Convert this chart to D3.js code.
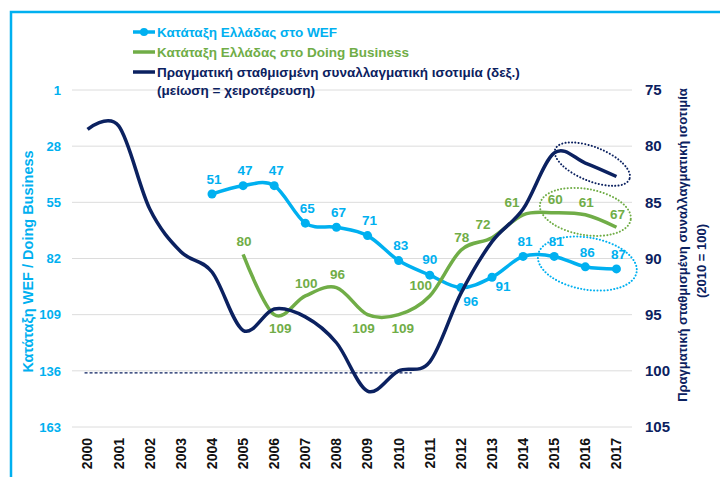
<!DOCTYPE html>
<html>
<head>
<meta charset="utf-8">
<script src="https://cdn.jsdelivr.net/npm/d3@7/dist/d3.min.js"></script>
<style>
  body { margin: 0; background: #fff; }
  svg { font-family: "Liberation Sans", Arial, sans-serif; display: block; }
</style>
</head>
<body>
<svg id="chart"></svg>
<script>
// categories
const years = [2000, 2001, 2002, 2003, 2004, 2005, 2006, 2007, 2008, 2009,
               2010, 2011, 2012, 2013, 2014, 2015, 2016, 2017];

// WEF ranking (left axis)
const wefYears = [2004, 2005, 2006, 2007, 2008, 2009, 2010, 2011, 2012, 2013, 2014, 2015, 2016, 2017];
const wefRank = [51, 47, 47, 65, 67, 71, 83, 90, 96, 91, 81, 81, 86, 87];

// Doing Business ranking (left axis)
const dbYears = [2005, 2006, 2007, 2008, 2009, 2010, 2011, 2012, 2013, 2014, 2015, 2016, 2017];
const dbRank = [80, 109, 100, 96, 109, 109, 100, 78, 72, 61, 60, 61, 67];

// real effective exchange rate, 2010 = 100 (right axis)
const reer = [78.5, 78.2, 85.6, 89.4, 91.2, 96.4, 94.5, 95.2, 97.5, 101.8,
              100, 99.2, 93.1, 88.5, 85.6, 80.6, 81.5, 82.7];

const leftTicks = [1, 28, 55, 82, 109, 136, 163];
const rightTicks = [75, 80, 85, 90, 95, 100, 105];

const legendLabels = [
  "Κατάταξη Ελλάδας στο WEF",
  "Κατάταξη Ελλάδας στο Doing Business",
  "Πραγματική σταθμισμένη συναλλαγματική ισοτιμία (δεξ.)"
];
const legendNote = "(μείωση = χειροτέρευση)";
const leftTitle = "Κατάταξη WEF / Doing Business";
const rightTitle = ["Πραγματική σταθμισμένη συναλλαγματική ισοτιμία", "(2010 = 100)"];

const cyan = "#00B0F0", green = "#70AD47", navy = "#0B2160";

const W = 720, H = 477;
const plot = { left: 72, right: 632, top: 90, bottom: 427 };

const svg = d3.select("#chart").attr("width", W).attr("height", H);

const x = d3.scaleBand().domain(years).range([plot.left, plot.right]);
const cx = d => x(d) + x.bandwidth() / 2;
const yL = d3.scaleLinear().domain([1, 163]).range([plot.top, plot.bottom]);
const yR = d3.scaleLinear().domain([75, 105]).range([plot.top, plot.bottom]);

// frame
svg.append("path")
  .attr("d", `M11,${H} V12 H${W}`)
  .attr("fill", "none")
  .attr("stroke", cyan)
  .attr("stroke-width", 2.5);

// gridlines
svg.append("g")
  .selectAll("line")
  .data(leftTicks)
  .enter().append("line")
  .attr("x1", plot.left).attr("x2", plot.right)
  .attr("y1", d => yL(d)).attr("y2", d => yL(d))
  .attr("stroke", "#DCDCDC").attr("stroke-width", 1);

// left axis
const leftAxis = svg.append("g")
  .attr("transform", `translate(${plot.left},0)`)
  .call(d3.axisLeft(yL).tickValues(leftTicks).tickSize(0).tickPadding(11));
leftAxis.select(".domain").remove();
leftAxis.selectAll("text")
  .attr("fill", cyan).style("font-size", "13px").style("font-weight", "bold");

// right axis
const rightAxis = svg.append("g")
  .attr("transform", `translate(${plot.right},0)`)
  .call(d3.axisRight(yR).tickValues(rightTicks).tickSize(0).tickPadding(13));
rightAxis.select(".domain").remove();
rightAxis.selectAll("text")
  .attr("fill", navy).style("font-size", "15px").style("font-weight", "bold");

// x axis
const xAxis = svg.append("g")
  .attr("transform", `translate(0,${plot.bottom})`)
  .call(d3.axisBottom(x).tickSize(0).tickPadding(0));
xAxis.select(".domain").remove();
xAxis.selectAll("text")
  .attr("fill", "#111")
  .style("font-size", "14px").style("font-weight", "bold")
  .attr("text-anchor", "end")
  .attr("transform", "translate(0,11) rotate(-90)")
  .attr("x", 0).attr("y", 0).attr("dy", "0.35em");

// axis titles
svg.append("text")
  .attr("transform", `translate(28,${(plot.top + plot.bottom) / 2 + 3}) rotate(-90)`)
  .attr("text-anchor", "middle").attr("dy", "0.35em")
  .attr("fill", cyan).style("font-size", "14.5px").style("font-weight", "bold")
  .text(leftTitle);

svg.append("text")
  .attr("transform", "translate(682,245) rotate(-90)")
  .attr("text-anchor", "middle").attr("dy", "0.35em")
  .attr("fill", navy).style("font-size", "13px").style("font-weight", "bold")
  .text(rightTitle[0]);
svg.append("text")
  .attr("transform", "translate(701,261) rotate(-90)")
  .attr("text-anchor", "middle").attr("dy", "0.35em")
  .attr("fill", navy).style("font-size", "13px").style("font-weight", "bold")
  .text(rightTitle[1]);

// 2010 = 100 reference
svg.append("line")
  .attr("x1", cx(2000) - 3).attr("x2", cx(2010) + 13)
  .attr("y1", yR(100) + 2).attr("y2", yR(100) + 2)
  .attr("stroke", navy).attr("stroke-width", 1.2)
  .attr("stroke-dasharray", "3,2");

const smooth = d3.curveCardinal.tension(0);

// WEF line
const wef = wefYears.map((yr, i) => ({ yr, v: wefRank[i] }));
svg.append("path")
  .datum(wef)
  .attr("fill", "none").attr("stroke", cyan).attr("stroke-width", 3.5)
  .attr("d", d3.line().x(d => cx(d.yr)).y(d => yL(d.v)).curve(smooth));
svg.append("g").selectAll("circle")
  .data(wef).enter().append("circle")
  .attr("cx", d => cx(d.yr)).attr("cy", d => yL(d.v)).attr("r", 4.5)
  .attr("fill", cyan);

// Doing Business line
const db = dbYears.map((yr, i) => ({ yr, v: dbRank[i] }));
svg.append("path")
  .datum(db)
  .attr("fill", "none").attr("stroke", green).attr("stroke-width", 3.5)
  .attr("d", d3.line().x(d => cx(d.yr)).y(d => yL(d.v)).curve(smooth));

// REER line
const rr = years.map((yr, i) => ({ yr, v: reer[i] }));
svg.append("path")
  .datum(rr)
  .attr("fill", "none").attr("stroke", navy).attr("stroke-width", 3.5)
  .attr("d", d3.line().x(d => cx(d.yr)).y(d => yR(d.v)).curve(smooth));

// data labels (offsets where the label sits off its default spot)
const wefShift = { 2012: [10, 14], 2013: [11, 9], 2011: [0, -16] };
const dbShift = { 2006: [6, 14], 2009: [-4, 14], 2010: [4, 14], 2011: [-9, -11],
                  2013: [-9, -13], 2014: [-11, -13] };

svg.append("g").selectAll("text")
  .data(wef).enter().append("text")
  .attr("x", d => cx(d.yr) + (wefShift[d.yr] || [2, -15])[0])
  .attr("y", d => yL(d.v) + (wefShift[d.yr] || [2, -15])[1])
  .attr("dy", "0.35em").attr("text-anchor", "middle")
  .attr("fill", cyan).style("font-size", "13.5px").style("font-weight", "bold")
  .text(d => d.v);

svg.append("g").selectAll("text")
  .data(db).enter().append("text")
  .attr("x", d => cx(d.yr) + (dbShift[d.yr] || [1, -13])[0])
  .attr("y", d => yL(d.v) + (dbShift[d.yr] || [1, -13])[1])
  .attr("dy", "0.35em").attr("text-anchor", "middle")
  .attr("fill", green).style("font-size", "13.5px").style("font-weight", "bold")
  .text(d => d.v);

// dotted ellipses around the last three years
const rings = [
  { c: navy, x: cx(2016) + 7, y: yR(81.6), rx: 40, ry: 17, rot: 22 },
  { c: green, x: cx(2016), y: yL(62) - 5, rx: 46, ry: 23, rot: 10 },
  { c: cyan, x: cx(2016) + 2, y: yL(83) + 3, rx: 50, ry: 26, rot: 10 }
];
svg.append("g").selectAll("ellipse")
  .data(rings).enter().append("ellipse")
  .attr("transform", d => `translate(${d.x},${d.y}) rotate(${d.rot})`)
  .attr("rx", d => d.rx).attr("ry", d => d.ry)
  .attr("fill", "none").attr("stroke", d => d.c)
  .attr("stroke-width", 2).attr("stroke-dasharray", "0.1,3.2")
  .attr("stroke-linecap", "round");

// legend
const legendColors = [cyan, green, navy];
const lg = svg.append("g");
legendLabels.forEach((t, i) => {
  const ly = 32 + i * 20;
  lg.append("line")
    .attr("x1", 133).attr("x2", 155).attr("y1", ly).attr("y2", ly)
    .attr("stroke", legendColors[i]).attr("stroke-width", 3.5);
  if (i === 0) lg.append("circle").attr("cx", 144).attr("cy", ly).attr("r", 4).attr("fill", cyan);
  lg.append("text")
    .attr("x", 157).attr("y", ly).attr("dy", "0.35em")
    .attr("fill", legendColors[i]).style("font-size", "13.5px").style("font-weight", "bold")
    .text(t);
});
lg.append("text")
  .attr("x", 157).attr("y", 90).attr("dy", "0.35em")
  .attr("fill", navy).style("font-size", "13.5px").style("font-weight", "bold")
  .text(legendNote);
</script>
</body>
</html>
